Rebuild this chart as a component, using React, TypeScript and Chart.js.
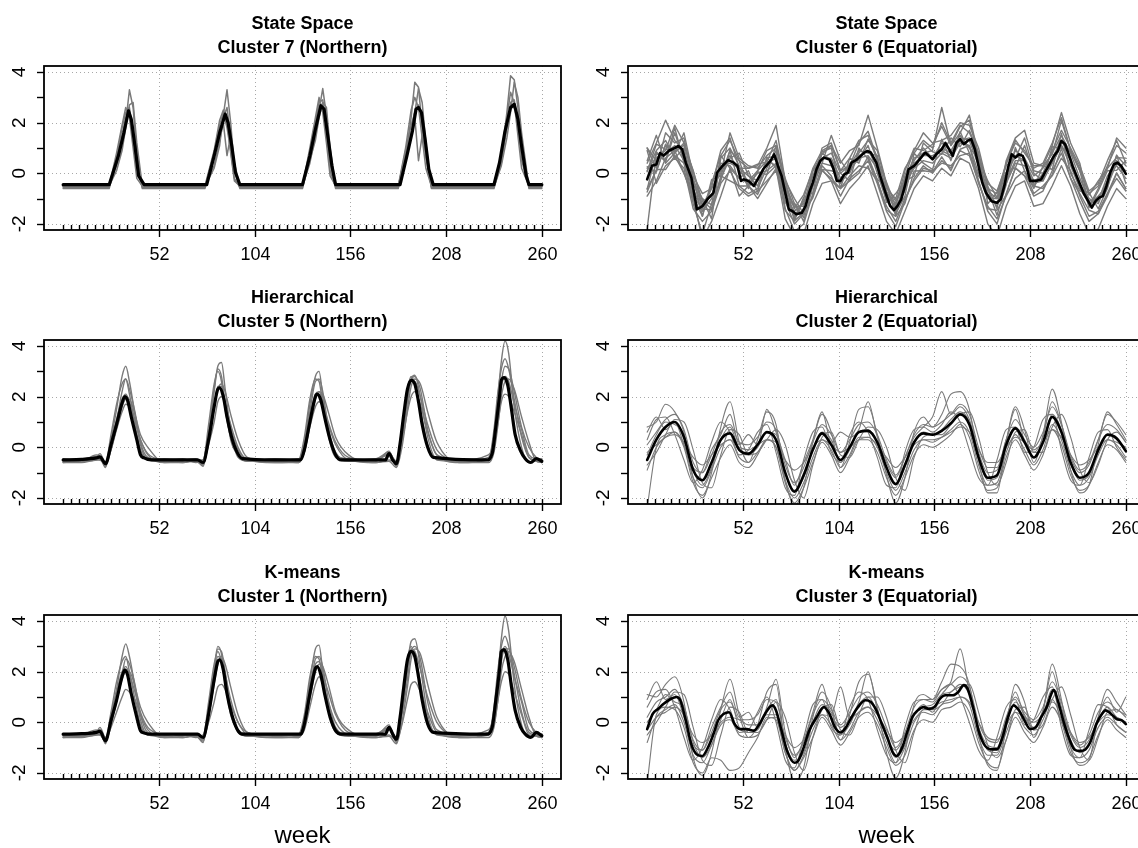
import { useEffect, useRef } from "react";
import { Chart, registerables } from "chart.js";

Chart.register(...registerables);

// ---------- axes ----------
const xTickWeeks = [52, 104, 156, 208, 260];
const yTickValues = [-2, -1, 0, 1, 2, 3, 4];
const yLabelValues = [-2, 0, 2, 4];
const minorTicksPerYear = 12;
const xMin = -10.4;
const xMax = 270.4;
const yMin = -2.24;
const yMax = 4.24;
const xAxisLabel = "week";

const panelTitles = [
  ["State Space", "Cluster 7 (Northern)"],
  ["State Space", "Cluster 6 (Equatorial)"],
  ["Hierarchical", "Cluster 5 (Northern)"],
  ["Hierarchical", "Cluster 2 (Equatorial)"],
  ["K-means", "Cluster 1 (Northern)"],
  ["K-means", "Cluster 3 (Equatorial)"],
];

// ---------- State Space, Cluster 7 (Northern) ----------
const ss7MeanWeeks = [0, 25, 30, 33, 35.5, 37, 39, 41, 44, 78, 82, 85, 88, 89.6, 91.6, 93.6, 96, 130, 134, 137, 140, 141.7, 144, 146, 148, 183, 186.7, 189.7, 191.7, 193, 194.6, 196.6, 198.6, 201, 234, 237, 240, 243, 245, 247, 249, 251.5, 253, 260];
const ss7MeanVals = [-0.45, -0.45, 0.69, 1.6, 2.47, 2.14, 1.08, -0.1, -0.45, -0.45, 0.69, 1.6, 2.34, 2.0, 1.08, 0.03, -0.45, -0.45, 0.69, 1.74, 2.67, 2.54, 1.35, 0.29, -0.45, -0.45, 0.69, 1.67, 2.54, 2.6, 2.4, 1.35, 0.16, -0.45, -0.45, 0.42, 1.67, 2.6, 2.73, 2.14, 1.08, -0.1, -0.45, -0.45];
const ss7GrayWeeks = [0, 25, 29, 32, 34, 36, 38, 40, 43, 77, 82, 85, 87, 89, 91, 93, 96, 130, 134, 137, 139, 141, 143, 145, 148, 182, 186, 189, 191, 193, 195, 197, 200, 234, 238, 241, 243, 245, 247, 249, 253, 260];
const ss7GrayLines = [
  [-0.52, -0.52, 0.3, 1.2, 2.0, 3.3, 2.6, 0.8, -0.52, -0.52, 0.2, 1.1, 2.3, 3.3, 2.0, 0.2, -0.52, -0.52, 0.4, 1.5, 2.5, 3.35, 2.3, 0.6, -0.52, -0.52, 0.6, 2.2, 3.6, 3.4, 1.8, 0.6, -0.52, -0.52, 0.6, 2.4, 3.85, 3.7, 2.6, 0.8, -0.52, -0.52],
  [-0.55, -0.55, 0.6, 1.8, 2.4, 2.6, 1.5, 0.2, -0.55, -0.55, 0.8, 1.9, 2.4, 1.8, 0.9, -0.2, -0.55, -0.55, 0.9, 2.0, 2.8, 2.9, 1.6, 0.1, -0.55, -0.55, 0.9, 1.9, 2.4, 3.35, 2.8, 1.2, -0.55, -0.55, 0.3, 1.4, 2.4, 3.6, 3.0, 1.6, -0.55, -0.55],
  [-0.5, -0.5, 0.1, 0.9, 1.8, 2.7, 2.8, 1.2, -0.5, -0.5, 0.3, 1.3, 2.0, 0.7, 1.5, 0.4, -0.5, -0.5, 0.5, 1.3, 2.2, 2.8, 2.6, 1.0, -0.5, -0.5, 0.7, 1.6, 2.2, 0.5, 1.5, 0.9, -0.5, -0.5, 0.4, 1.8, 2.8, 2.9, 2.0, 0.5, -0.5, -0.5],
  [-0.6, -0.6, 0.5, 1.5, 2.2, 2.4, 1.8, 0.5, -0.6, -0.6, 0.6, 1.6, 2.2, 2.6, 1.4, 0.1, -0.6, -0.6, 0.6, 1.8, 2.6, 2.6, 1.8, 0.4, -0.6, -0.6, 0.5, 1.5, 2.5, 2.7, 2.3, 1.0, -0.6, -0.6, 0.5, 1.9, 2.6, 2.6, 2.3, 1.0, -0.6, -0.6],
  [-0.5, -0.5, 0.8, 1.9, 2.6, 2.2, 1.0, -0.2, -0.5, -0.5, 0.9, 2.1, 2.5, 2.1, 0.8, -0.3, -0.5, -0.5, 1.0, 2.2, 3.0, 2.4, 1.2, -0.1, -0.5, -0.5, 1.0, 2.5, 3.0, 2.6, 1.4, 0.2, -0.5, -0.5, 0.8, 2.2, 3.2, 2.8, 1.5, 0.2, -0.5, -0.5],
];

// ---------- shared week grids ----------
const eqGridWeeks = [0, 5, 10, 15, 20, 25, 30, 35, 40, 45, 50, 55, 60, 65, 70, 75, 80, 85, 90, 95, 100, 105, 110, 115, 120, 125, 130, 135, 140, 145, 150, 155, 160, 165, 170, 175, 180, 185, 190, 195, 200, 205, 210, 215, 220, 225, 230, 235, 240, 245, 250, 255, 260];
const northMeanWeeks = [0, 10, 18, 20, 23, 26, 29, 32, 33.5, 35, 37, 40, 42, 44, 48, 60, 73, 76, 79, 82, 84, 85, 87, 89, 91.5, 94.5, 97.5, 115, 129, 131, 134, 137, 138, 140, 142, 145, 148, 151, 175, 177, 179, 181, 183, 185, 187, 189, 191, 193, 195, 198, 201, 230, 233, 235, 237, 238, 239.5, 241.5, 243.5, 245.5, 248.5, 251, 254, 257, 260];
const northGrayWeeks = [0, 10, 18, 20, 23, 26, 29, 32, 34, 36, 39, 42, 46, 55, 65, 72, 76, 79, 82, 84, 86, 88, 91, 95, 100, 115, 128, 131, 134, 137, 139, 141, 144, 148, 155, 170, 177, 181, 184, 187, 189, 191, 194, 198, 203, 215, 231, 234, 236, 238, 240, 242, 245, 249, 253, 257, 260];

// ---------- State Space, Cluster 6 (Equatorial) ----------
const ss6MeanWeeks = [0, 2.6, 5, 7, 9, 12, 15, 17, 19, 21, 24, 26, 27, 30, 33, 36, 38, 41, 44, 47, 49, 51, 52.5, 55, 58, 60, 63, 67, 69, 71, 73, 75, 77, 79, 81, 84, 86, 88, 90, 92, 94, 96, 99, 101, 103, 105, 107, 109, 111, 114, 116, 118, 119.5, 121.5, 124.5, 126.5, 129.5, 132, 134, 136, 138, 140, 142, 145, 148, 151, 153, 155, 157, 160, 162, 164, 166, 168, 170, 172, 174, 176, 178, 180, 182, 184, 187, 190, 192, 194, 196, 198, 200, 202, 204, 206, 208, 211, 214, 216, 218, 221, 223, 225, 227, 229, 231, 234, 237, 240, 241.5, 243.5, 245.5, 247.5, 249.5, 251.5, 253.5, 255.5, 257.5, 260];
const ss6MeanVals = [-0.24, 0.3, 0.35, 0.8, 0.7, 0.9, 1.0, 1.08, 0.95, 0.42, -0.17, -1.0, -1.43, -1.3, -1.0, -0.77, 0.03, 0.3, 0.52, 0.42, 0.3, -0.3, -0.24, -0.3, -0.5, -0.24, 0.16, 0.49, 0.75, 0.3, -0.1, -0.77, -1.43, -1.5, -1.62, -1.56, -1.3, -0.77, -0.37, 0.16, 0.49, 0.62, 0.55, 0.22, -0.3, -0.3, -0.04, 0.03, 0.42, 0.55, 0.69, 0.82, 0.88, 0.82, 0.42, -0.1, -0.77, -1.29, -1.45, -1.29, -1.03, -0.5, 0.16, 0.29, 0.55, 0.82, 0.69, 0.55, 0.75, 0.95, 1.2, 0.95, 0.69, 1.2, 1.35, 1.15, 1.28, 1.35, 0.95, 0.29, -0.37, -0.77, -1.1, -1.16, -1.03, -0.5, 0.22, 0.75, 0.62, 0.75, 0.69, 0.29, -0.3, -0.3, -0.24, 0.03, 0.29, 0.69, 0.88, 1.28, 1.15, 0.75, 0.29, -0.24, -0.77, -1.16, -1.36, -1.1, -0.96, -0.9, -0.5, 0.03, 0.36, 0.42, 0.29, -0.02];
const ss6GrayLines = [
  [1.0, 0.2, 1.6, 1.2, 1.4, -0.3, -1.0, -1.8, 0.6, 1.0, 0.3, -0.6, 0.1, 0.9, 1.1, -0.2, -1.2, -1.9, -0.5, 1.0, 1.2, 0.1, 0.6, 1.3, 1.5, 0.5, -0.6, -1.0, 0.2, 0.8, 1.3, 1.0, 2.0, 1.2, 1.9, 1.6, 0.8, -0.6, -0.8, 0.4, 1.2, 0.9, 0.2, 0.4, 1.2, 2.2, 0.9, 0.1, -0.8, -0.5, 0.3, 1.1, 0.8],
  [-2.2, 0.8, 0.5, 1.8, 0.4, -1.2, -2.4, -1.2, -0.3, 0.9, -0.5, -0.8, -0.6, 0.2, 0.9, -1.4, -2.3, -2.0, -0.8, 0.3, -0.1, -0.9, -0.2, 0.1, 0.5, -0.4, -1.5, -2.1, -1.1, -0.2, 0.3, 0.0, 0.5, 0.2, 0.9, 0.7, -0.3, -1.5, -2.0, -0.8, 0.2, -0.1, -0.9, -0.7, 0.1, 0.8, -0.2, -1.1, -1.9, -1.6, -0.9, 0.0, -0.6],
  [0.4, 1.2, 2.1, 1.3, 0.9, -0.9, -1.7, -0.4, 0.7, 1.3, 0.5, 0.2, 0.3, 1.0, 1.9, -0.3, -1.8, -1.0, 0.2, 0.9, 1.1, 0.4, 0.9, 1.1, 2.3, 1.0, -0.4, -1.7, -0.1, 0.9, 1.6, 1.2, 1.3, 1.5, 2.0, 1.9, 1.0, -0.5, -1.4, 0.5, 1.4, 1.7, 0.4, 0.3, 1.1, 2.4, 1.2, 0.4, -1.3, -0.6, 0.2, 1.4, 1.0],
  [0.9, -0.4, 0.3, 0.6, 0.2, -1.4, -1.9, -1.5, -0.4, 0.1, -0.6, -0.9, -0.7, -0.3, 0.1, -1.1, -2.0, -1.6, -0.9, 0.1, -0.2, -0.6, -0.1, 0.3, 0.2, -0.3, -1.3, -1.9, -1.0, -0.3, 0.2, 0.1, 0.4, 0.3, 0.7, 0.8, -0.4, -1.3, -1.8, -0.9, -0.2, 0.1, -0.8, -0.5, -0.1, 0.6, 0.1, -0.9, -1.7, -1.5, -0.8, -0.2, -0.7],
  [0.2, 0.6, 0.9, 1.9, 1.2, 0.1, -1.1, -1.4, -0.2, 0.6, 0.8, -0.1, -0.5, 0.6, 0.7, -0.6, -1.3, -1.3, 0.1, 0.6, 0.8, 0.0, 0.3, 0.9, 0.8, 0.7, -0.9, -1.3, -0.7, 0.5, 1.0, 0.6, 1.2, 0.9, 1.5, 1.0, 0.6, -1.0, -1.0, 0.0, 0.9, 0.6, -0.1, 0.2, 0.8, 1.5, 0.8, -0.2, -1.0, -1.2, -0.3, 0.7, 0.3],
  [-0.6, 0.1, 1.1, 0.7, 0.4, -0.6, -1.5, -1.0, 0.4, 0.3, -0.2, -0.4, 0.0, 0.1, 0.4, -0.9, -1.5, -1.2, -0.1, 0.8, 0.5, -0.4, 0.4, 0.5, 1.1, 0.0, -1.1, -1.5, -0.4, 0.2, 0.5, 0.4, 0.8, 0.6, 1.2, 1.1, 0.0, -0.8, -1.3, -0.4, 0.4, 0.3, -0.4, -0.3, 0.4, 1.1, 0.3, -0.6, -1.2, -0.9, -0.5, 0.4, 0.1],
  [0.5, 1.5, 0.4, 0.8, 1.6, -0.1, -0.8, -0.6, 0.0, 1.6, 0.6, 0.3, 0.2, 0.7, 1.0, -0.3, -1.0, -1.6, -0.4, 0.4, 1.5, 0.5, 0.0, 0.8, 1.3, 0.9, -0.5, -1.1, -0.2, 0.6, 0.8, 0.9, 2.6, 1.1, 1.6, 2.3, 0.7, -0.4, -0.7, 0.3, 0.6, 1.4, 0.1, 0.0, 0.9, 1.7, 1.0, 0.3, -0.7, -0.4, 0.5, 1.3, 0.4],
  [-0.9, -0.3, 0.6, 0.9, 0.0, -1.0, -2.6, -1.9, -0.9, 0.2, -0.9, -0.5, -1.0, -0.4, 0.2, -1.8, -2.5, -2.4, -1.2, -0.4, -0.3, -1.2, -0.6, -0.2, 0.3, -0.8, -1.9, -2.4, -1.5, -0.6, -0.1, -0.3, 0.2, -0.1, 0.6, 0.4, -0.6, -2.0, -2.5, -1.3, -0.5, -0.3, -1.3, -1.2, -0.5, 0.3, -0.5, -1.6, -2.4, -2.2, -1.3, -0.6, -1.0],
  [0.1, 0.9, 1.3, 0.6, 1.0, -0.4, -1.2, -0.9, 0.3, 0.4, 0.2, -0.1, -0.3, 0.4, 0.6, -0.5, -1.4, -1.6, -0.3, 0.6, 0.6, -0.2, 0.2, 0.7, 0.9, 0.3, -0.7, -1.4, -0.6, 0.3, 0.8, 0.6, 1.0, 0.8, 1.4, 1.3, 0.3, -0.9, -1.2, -0.1, 0.7, 0.5, -0.3, -0.1, 0.6, 1.3, 0.6, -0.4, -1.1, -1.0, -0.3, 0.5, 0.0],
  [1.0, 0.5, 0.8, 1.1, 0.5, -0.2, -1.4, -0.6, 0.1, 0.7, 0.1, -0.3, 0.1, 0.5, 0.3, -0.8, -1.7, -1.1, -0.5, 0.4, 0.3, -0.4, 0.1, 0.6, 0.7, 0.2, -0.8, -1.2, -0.3, 0.4, 0.7, 0.7, 0.9, 0.7, 1.3, 1.4, 0.5, -0.7, -1.0, -0.3, 0.5, 0.5, -0.5, 0.0, 0.4, 1.1, 0.5, -0.5, -1.2, -1.1, -0.1, 0.3, -0.2],
  [0.26, 0.05, 1.15, 0.8, 1.2, -0.2, -1.7, -0.25, -0.1, 0.9, 0.5, -0.5, 0.06, -0.05, 1.1, -0.57, -1.88, -0.95, -0.77, 0.85, 1.0, -0.6, 0.6, 0.4, 1.36, 0.65, -1.15, -0.8, -0.3, -0.11, 1.2, 0.85, 0.75, 1.4, 1.05, 1.7, 0.79, -1.2, -0.76, 0.05, 0.22, 1.1, 0.0, -0.3, 1.05, 0.98, 0.9, 0.1, -1.36, -0.7, 0.1, 0.12, 0.5],
  [-0.64, 0.85, 0.45, 1.6, 0.5, -1.0, -1.0, -1.25, 0.7, 0.2, -0.2, 0.1, -0.74, 0.65, 0.2, -1.17, -1.18, -1.75, 0.13, 0.15, 0.1, 0.0, -0.3, 1.0, 0.56, -0.25, -0.45, -1.6, -0.9, 0.79, 0.4, 0.15, 1.35, 0.5, 1.65, 0.8, -0.11, -0.6, -1.66, -0.45, 1.02, 0.1, -0.6, 0.3, 0.15, 1.58, 0.0, -0.7, -0.76, -1.4, -0.6, 0.72, -0.4],
  [0.06, 1.15, 0.95, 0.9, 1.1, 0.1, -1.3, -0.55, 0.9, 1.4, 0.2, 0.2, 0.36, 0.45, 1.3, -0.37, -1.38, -0.85, 0.13, 0.75, 1.1, 0.1, 0.3, 1.2, 1.66, 0.55, -0.35, -1.3, 0.1, 0.99, 0.9, 1.15, 1.85, 1.1, 1.85, 2.1, 0.59, -0.3, -0.96, 0.35, 1.32, 0.8, 0.3, 0.3, 0.75, 2.08, 0.9, 0.2, -0.86, -0.3, 0.2, 0.62, 0.6],
  [-0.74, 0.15, 0.15, 0.7, 0.0, -0.9, -1.4, -1.45, -0.1, -0.3, -0.5, -0.5, -0.84, -0.05, 0.3, -1.47, -1.88, -1.55, -0.97, 0.15, -0.3, -0.6, -0.3, 0.0, 0.66, -0.25, -1.45, -1.7, -1.2, 0.09, 0.1, 0.05, 0.65, 0.1, 0.95, 1.1, -0.31, -1.4, -1.46, -0.85, 0.22, -0.1, -0.5, -0.6, -0.05, 0.98, -0.2, -0.8, -1.46, -1.6, -0.8, 0.02, -0.6],
];

// ---------- Hierarchical, Cluster 5 (Northern) ----------
const h5MeanVals = [-0.5, -0.48, -0.42, -0.38, -0.65, 0.1, 0.9, 1.75, 2.0, 1.85, 1.2, 0.3, -0.3, -0.42, -0.5, -0.5, -0.5, -0.6, 0.3, 1.6, 2.3, 2.35, 2.0, 1.2, 0.4, -0.2, -0.45, -0.5, -0.5, -0.1, 1.0, 2.0, 2.1, 1.85, 1.2, 0.3, -0.3, -0.5, -0.5, -0.25, -0.5, -0.65, 0.15, 1.3, 2.3, 2.65, 2.5, 1.8, 0.9, 0.0, -0.4, -0.5, -0.25, 0.8, 2.0, 2.65, 2.75, 2.45, 1.5, 0.5, -0.15, -0.45, -0.6, -0.45, -0.55];
const h5GrayLines = [
  [-0.55, -0.5, -0.35, -0.4, -0.75, 0.3, 1.5, 2.8, 3.2, 2.6, 1.3, 0.1, -0.5, -0.55, -0.5, -0.45, -0.7, 0.6, 2.2, 3.2, 3.35, 2.3, 0.7, -0.4, -0.55, -0.5, -0.5, 0.2, 1.7, 2.8, 3.0, 2.0, 0.5, -0.4, -0.55, -0.5, -0.3, -0.7, 0.5, 2.0, 2.7, 2.85, 2.0, 0.4, -0.5, -0.55, -0.4, 0.5, 1.9, 3.4, 4.2, 3.7, 1.6, 0.0, -0.6, -0.5, -0.55],
  [-0.6, -0.55, -0.5, -0.45, -0.65, -0.1, 0.7, 1.4, 1.7, 1.6, 1.0, 0.3, -0.3, -0.6, -0.55, -0.5, -0.6, 0.1, 1.0, 1.8, 2.0, 1.7, 0.9, 0.0, -0.5, -0.6, -0.55, -0.2, 0.8, 1.6, 1.8, 1.6, 0.9, 0.1, -0.5, -0.6, -0.5, -0.6, 0.2, 1.4, 2.0, 2.2, 1.7, 0.6, -0.3, -0.6, -0.5, 0.0, 0.9, 1.8, 2.1, 2.0, 1.4, 0.5, -0.4, -0.55, -0.6],
  [-0.5, -0.55, -0.3, -0.35, -0.8, 0.2, 1.1, 1.9, 2.1, 1.8, 1.1, 0.3, -0.25, -0.5, -0.6, -0.5, -0.75, 0.4, 1.6, 2.4, 2.4, 1.8, 0.8, -0.1, -0.45, -0.55, -0.6, 0.0, 1.2, 2.1, 2.2, 1.8, 1.0, 0.2, -0.4, -0.55, -0.15, -0.75, 0.3, 1.8, 2.6, 2.6, 2.0, 0.9, -0.1, -0.5, -0.3, 0.2, 1.3, 2.4, 2.8, 2.6, 1.7, 0.7, -0.3, -0.45, -0.5],
  [-0.45, -0.5, -0.4, -0.25, -0.6, 0.0, 1.0, 2.2, 2.7, 2.3, 1.4, 0.2, -0.4, -0.5, -0.45, -0.6, -0.5, 0.5, 2.3, 3.1, 2.8, 1.7, 0.3, -0.3, -0.55, -0.45, -0.5, 0.1, 1.4, 2.6, 2.7, 2.2, 0.8, -0.2, -0.5, -0.45, -0.2, -0.6, 0.4, 1.9, 2.7, 2.8, 2.3, 0.7, -0.3, -0.5, -0.5, 0.2, 1.4, 2.6, 3.2, 3.1, 2.2, 0.8, 0.0, -0.4, -0.5],
  [-0.6, -0.6, -0.5, -0.5, -0.7, -0.1, 0.8, 1.6, 1.9, 1.9, 1.3, 0.5, 0.0, -0.6, -0.6, -0.55, -0.7, 0.2, 1.5, 2.3, 2.5, 2.2, 1.3, 0.3, -0.4, -0.6, -0.6, -0.2, 0.9, 1.9, 2.2, 2.1, 1.4, 0.4, -0.3, -0.6, -0.55, -0.8, 0.0, 1.5, 2.4, 2.7, 2.5, 1.4, 0.2, -0.6, -0.6, -0.2, 0.8, 2.0, 2.6, 2.7, 2.3, 1.2, 0.2, -0.55, -0.6],
  [-0.5, -0.45, -0.45, -0.5, -0.6, 0.5, 1.7, 2.5, 2.7, 2.1, 0.9, -0.1, -0.5, -0.45, -0.5, -0.5, -0.5, 0.9, 2.5, 3.0, 2.6, 1.5, 0.4, -0.3, -0.45, -0.5, -0.45, 0.4, 1.9, 2.7, 2.6, 1.7, 0.6, -0.3, -0.45, -0.5, -0.25, -0.55, 0.8, 2.3, 2.8, 2.5, 1.5, 0.1, -0.45, -0.5, -0.5, 0.7, 2.1, 3.1, 3.5, 3.1, 1.9, 0.4, -0.4, -0.5, -0.45],
];

// ---------- Hierarchical, Cluster 2 (Equatorial) ----------
const h2MeanVals = [-0.5, 0.3, 0.8, 1.0, 0.4, -0.9, -1.3, -0.6, 0.3, 0.55, -0.1, -0.25, 0.1, 0.6, 0.3, -1.0, -1.75, -1.1, -0.1, 0.55, 0.1, -0.5, 0.0, 0.6, 0.65, 0.2, -0.8, -1.45, -0.7, 0.2, 0.55, 0.5, 0.65, 0.95, 1.3, 0.9, -0.4, -1.2, -1.1, 0.1, 0.75, 0.2, -0.4, 0.2, 1.2, 0.6, -0.6, -1.2, -1.0, -0.1, 0.5, 0.35, -0.15];
const h2GrayLines = [
  [0.8, 1.0, 1.7, 1.4, 0.6, -1.2, -2.0, -1.0, 0.8, 1.8, 0.2, -0.6, 0.3, 1.4, 0.9, -1.3, -2.3, -1.6, 0.2, 1.3, 0.6, -0.8, 0.2, 1.5, 1.6, 0.5, -1.1, -2.2, -1.2, 0.6, 1.2, 0.8, 1.3, 2.1, 2.2, 1.5, -0.5, -1.8, -1.8, 0.2, 1.6, 0.7, -0.6, 0.5, 2.3, 1.0, -0.9, -1.8, -1.5, 0.1, 1.4, 0.9, 0.3],
  [-0.2, 0.1, 0.4, 0.5, 0.2, -0.4, -0.7, -0.3, 0.1, 0.3, 0.0, -0.1, 0.1, 0.3, 0.2, -0.5, -0.9, -0.6, 0.0, 0.3, 0.1, -0.2, 0.0, 0.3, 0.4, 0.1, -0.4, -0.8, -0.4, 0.1, 0.3, 0.3, 0.4, 0.6, 0.8, 0.6, -0.1, -0.6, -0.6, 0.0, 0.4, 0.2, -0.1, 0.2, 0.7, 0.4, -0.3, -0.7, -0.5, 0.0, 0.3, 0.2, 0.0],
  [-2.4, 0.0, 0.5, 0.6, 0.0, -1.4, -1.9, -1.2, -0.4, 0.1, -0.6, -0.8, -0.3, 0.3, 0.0, -1.4, -2.2, -1.6, -0.6, 0.2, -0.3, -1.0, -0.4, 0.3, 0.3, -0.2, -1.2, -1.9, -1.2, -0.3, 0.1, 0.0, 0.2, 0.5, 0.9, 0.4, -0.9, -1.7, -1.6, -0.4, 0.3, -0.3, -0.9, -0.3, 0.7, 0.1, -1.1, -1.7, -1.5, -0.6, 0.1, -0.1, -0.6],
  [0.3, 1.1, 1.2, 0.5, -0.5, -1.4, -0.9, 0.2, 1.0, 0.6, -0.3, -0.1, 0.6, 0.9, -0.2, -1.6, -1.9, -0.5, 0.6, 0.8, -0.2, -0.6, 0.5, 1.0, 0.6, -0.4, -1.5, -1.6, -0.2, 0.7, 0.8, 0.6, 0.9, 1.4, 1.0, -0.1, -1.2, -1.5, -0.5, 0.7, 0.8, -0.2, 0.0, 1.1, 1.3, -0.1, -1.3, -1.5, -0.4, 0.6, 0.7, 0.0, -0.5],
  [-0.7, -0.2, 0.5, 1.1, 1.0, -0.1, -1.4, -1.6, -0.3, 0.7, 0.5, -0.3, -0.2, 0.3, 0.7, 0.1, -1.3, -2.0, -0.7, 0.4, 0.6, -0.3, -0.4, 0.3, 0.8, 0.7, 0.0, -1.2, -1.7, -0.4, 0.4, 0.5, 0.5, 0.9, 1.3, 1.4, 0.4, -1.0, -1.5, -0.6, 0.6, 0.7, -0.2, -0.2, 0.8, 1.3, 0.4, -0.9, -1.4, -0.7, 0.3, 0.6, 0.2],
  [0.1, 0.6, 1.1, 1.3, 0.7, -0.6, -1.0, -0.3, 0.6, 0.9, 0.2, 0.1, 0.4, 1.0, 0.7, -0.7, -1.4, -0.8, 0.2, 0.9, 0.5, -0.2, 0.3, 0.9, 1.0, 0.5, -0.5, -1.1, -0.4, 0.5, 0.9, 0.8, 1.0, 1.3, 1.7, 1.3, 0.0, -0.8, -0.8, 0.3, 1.1, 0.5, 0.0, 0.6, 1.6, 0.9, -0.3, -0.9, -0.6, 0.3, 0.9, 0.7, 0.2],
  [-0.9, 0.0, 0.4, 0.6, 0.1, -1.2, -1.6, -0.9, 0.0, 0.3, -0.4, -0.6, -0.2, 0.3, 0.0, -1.3, -2.0, -1.4, -0.4, 0.3, -0.1, -0.8, -0.3, 0.4, 0.4, 0.0, -1.0, -1.7, -1.0, -0.1, 0.3, 0.2, 0.4, 0.7, 1.0, 0.6, -0.7, -1.5, -1.4, -0.2, 0.5, -0.1, -0.7, -0.1, 0.9, 0.3, -0.9, -1.5, -1.2, -0.3, 0.3, 0.1, -0.4],
  [0.6, 1.2, 0.7, 1.0, 0.1, -0.8, -1.0, -0.1, 0.5, 1.3, 0.1, 0.5, 0.1, 1.5, 0.6, -0.5, -1.5, -0.6, 0.3, 1.4, 0.2, 0.6, 0.4, 0.7, 1.8, 0.4, -0.6, -1.2, -0.4, 0.4, 0.8, 1.2, 2.2, 1.3, 1.6, 1.1, -0.2, -1.0, -0.9, 0.3, 1.5, 0.2, -0.2, 0.4, 1.8, 0.9, -0.4, -1.0, -0.7, 0.3, 1.3, 1.0, 0.5],
  [-0.3, 0.5, 1.0, 0.9, 0.5, -0.9, -1.5, -0.8, 0.3, 0.8, -0.1, -0.3, 0.0, 0.6, 0.5, -1.0, -1.7, -1.2, -0.1, 0.6, 0.3, -0.6, -0.1, 0.6, 0.7, 0.2, -0.8, -1.5, -0.8, 0.2, 0.6, 0.5, 0.7, 1.1, 1.4, 1.0, -0.4, -1.3, -1.2, 0.0, 0.8, 0.3, -0.4, 0.2, 1.3, 0.7, -0.6, -1.3, -1.1, -0.2, 0.5, 0.4, -0.2],
];

// ---------- K-means, Cluster 1 (Northern) ----------
const k1MeanVals = [-0.47, -0.45, -0.4, -0.35, -0.73, 0.07, 0.87, 1.8, 2.07, 1.87, 1.13, 0.2, -0.33, -0.42, -0.47, -0.47, -0.47, -0.6, 0.33, 1.67, 2.4, 2.47, 2.07, 1.13, 0.33, -0.27, -0.47, -0.47, -0.47, -0.07, 1.13, 2.13, 2.2, 1.87, 1.13, 0.2, -0.33, -0.47, -0.47, -0.2, -0.47, -0.67, 0.2, 1.4, 2.47, 2.8, 2.6, 1.8, 0.87, -0.07, -0.4, -0.47, -0.2, 0.87, 2.07, 2.8, 2.87, 2.47, 1.4, 0.47, -0.2, -0.47, -0.6, -0.4, -0.53];
const k1GrayLines = [
  [-0.55, -0.5, -0.3, -0.4, -0.8, 0.2, 1.3, 2.6, 3.1, 2.6, 1.4, 0.1, -0.5, -0.55, -0.5, -0.45, -0.7, 0.5, 2.0, 2.9, 2.8, 2.0, 0.6, -0.4, -0.55, -0.5, -0.5, 0.1, 1.6, 2.9, 3.05, 2.0, 0.5, -0.4, -0.55, -0.5, -0.3, -0.75, 0.6, 2.3, 3.2, 3.3, 2.2, 0.3, -0.5, -0.55, -0.4, 0.4, 1.7, 3.3, 4.2, 3.6, 1.5, -0.1, -0.6, -0.5, -0.55],
  [-0.6, -0.55, -0.5, -0.45, -0.7, -0.2, 0.4, 1.0, 1.3, 1.2, 0.9, 0.3, -0.3, -0.6, -0.55, -0.5, -0.6, 0.0, 0.8, 1.4, 1.5, 1.3, 0.7, 0.0, -0.5, -0.6, -0.55, -0.3, 0.6, 1.5, 1.8, 1.5, 0.8, 0.0, -0.5, -0.6, -0.5, -0.7, -0.1, 0.9, 1.5, 1.6, 1.2, 0.4, -0.4, -0.6, -0.5, -0.1, 0.8, 1.6, 2.0, 1.9, 1.2, 0.3, -0.5, -0.55, -0.6],
  [-0.5, -0.55, -0.35, -0.3, -0.85, 0.3, 1.2, 2.0, 2.2, 1.9, 1.2, 0.4, -0.2, -0.5, -0.6, -0.5, -0.8, 0.6, 1.9, 2.6, 2.5, 1.9, 0.9, 0.0, -0.4, -0.55, -0.6, 0.1, 1.4, 2.3, 2.4, 1.9, 1.2, 0.3, -0.4, -0.55, -0.1, -0.8, 0.4, 2.0, 2.9, 2.8, 2.1, 1.0, 0.0, -0.5, -0.3, 0.3, 1.4, 2.6, 3.0, 2.7, 1.8, 0.8, -0.3, -0.45, -0.5],
  [-0.45, -0.5, -0.4, -0.2, -0.6, 0.0, 0.9, 1.9, 2.5, 2.3, 1.5, 0.3, -0.4, -0.5, -0.45, -0.6, -0.5, 0.4, 2.1, 3.0, 2.7, 1.6, 0.3, -0.3, -0.55, -0.45, -0.5, 0.0, 1.2, 2.5, 2.6, 2.2, 0.9, -0.2, -0.5, -0.45, -0.2, -0.6, 0.3, 1.7, 2.8, 3.0, 2.5, 0.8, -0.3, -0.5, -0.5, 0.1, 1.2, 2.4, 2.9, 2.9, 2.2, 0.9, 0.0, -0.4, -0.5],
  [-0.6, -0.6, -0.5, -0.5, -0.75, -0.1, 0.8, 1.7, 2.0, 2.0, 1.4, 0.6, 0.0, -0.6, -0.6, -0.55, -0.75, 0.2, 1.5, 2.3, 2.6, 2.3, 1.4, 0.3, -0.4, -0.6, -0.6, -0.2, 0.9, 2.0, 2.3, 2.2, 1.5, 0.4, -0.3, -0.6, -0.55, -0.85, 0.0, 1.4, 2.5, 2.9, 2.7, 1.5, 0.2, -0.6, -0.6, -0.2, 0.8, 2.0, 2.6, 2.8, 2.4, 1.3, 0.2, -0.55, -0.6],
  [-0.5, -0.45, -0.45, -0.5, -0.65, 0.4, 1.6, 2.4, 2.6, 2.0, 0.9, -0.1, -0.5, -0.45, -0.5, -0.5, -0.55, 0.8, 2.3, 2.8, 2.4, 1.5, 0.4, -0.3, -0.45, -0.5, -0.45, 0.3, 1.8, 2.6, 2.5, 1.7, 0.6, -0.3, -0.45, -0.5, -0.25, -0.6, 0.8, 2.5, 3.0, 2.6, 1.6, 0.1, -0.45, -0.5, -0.5, 0.6, 2.0, 3.0, 3.4, 3.0, 1.9, 0.4, -0.4, -0.5, -0.45],
];

// ---------- K-means, Cluster 3 (Equatorial) ----------
const k3MeanWeeks = [0, 3, 6, 9, 13, 16, 18, 21, 24, 27, 30, 33, 36, 38.5, 41.5, 44.5, 47.5, 50.5, 54, 58, 61, 64, 68, 70, 73, 76, 80, 82, 85, 88, 92, 96, 99, 102, 105, 108, 111, 114.5, 118.5, 121.5, 124.5, 127.5, 130.5, 133.5, 135.5, 138.5, 141.5, 144, 147, 150, 153, 156, 159, 162, 166, 169, 172, 174, 177, 180, 183, 187, 190, 193, 196, 199, 202, 205, 208, 211, 214, 217, 220, 221, 223, 226, 229, 232, 235, 238, 241, 244, 247, 249, 252, 255, 258, 260];
const k3MeanVals = [-0.27, 0.33, 0.53, 0.73, 0.93, 1.0, 0.87, 0.07, -0.87, -1.27, -1.33, -1.0, -0.47, 0.07, 0.33, 0.4, -0.07, -0.27, -0.27, -0.33, -0.07, 0.33, 0.67, 0.47, -0.33, -1.13, -1.6, -1.53, -1.0, -0.33, 0.2, 0.6, 0.33, -0.2, -0.4, -0.2, 0.2, 0.6, 0.87, 0.8, 0.47, -0.07, -0.6, -1.2, -1.33, -1.0, -0.33, 0.2, 0.47, 0.6, 0.53, 0.6, 0.93, 1.07, 1.07, 1.2, 1.47, 1.33, 0.6, -0.33, -0.87, -1.07, -1.07, -0.6, 0.2, 0.67, 0.47, 0.07, -0.27, -0.2, 0.2, 0.6, 1.2, 1.27, 0.87, 0.07, -0.6, -1.07, -1.13, -1.07, -0.73, -0.07, 0.33, 0.47, 0.33, 0.13, 0.07, -0.07];
const k3GrayLines = [
  [1.1, 1.0, 1.5, 1.8, 0.8, -1.4, -2.1, -1.2, 0.5, 1.7, 0.3, -0.6, -0.1, 1.2, 1.5, -1.0, -2.3, -1.8, 0.2, 1.2, 0.6, -0.7, 0.3, 1.6, 1.9, 0.6, -1.2, -2.2, -1.2, 0.7, 1.1, 0.9, 1.6, 2.3, 2.2, 1.5, -0.5, -1.7, -1.9, -0.2, 1.5, 0.8, -0.6, 0.4, 2.3, 0.9, -1.0, -1.7, -1.5, 0.2, 1.3, 0.8, 0.3],
  [-0.3, 0.2, 0.4, 0.6, 0.3, -0.5, -0.8, -0.5, 0.0, 0.2, 0.1, -0.1, -0.1, 0.3, 0.3, -0.5, -1.0, -0.7, -0.1, 0.3, 0.2, -0.2, 0.1, 0.4, 0.6, 0.3, -0.3, -0.8, -0.5, 0.1, 0.5, 0.6, 0.8, 0.9, 1.0, 0.8, 0.0, -0.6, -0.7, -0.1, 0.4, 0.2, 0.0, 0.3, 0.8, 0.4, -0.4, -0.8, -0.6, 0.0, 0.3, 0.2, 0.0],
  [-2.4, 0.3, 0.6, 0.5, -0.2, -1.6, -2.0, -1.4, -1.5, -1.9, -1.8, -1.2, -0.6, 0.2, 0.1, -1.2, -1.9, -1.4, -0.6, 0.2, -0.3, -0.9, -0.4, 0.2, 0.4, -0.1, -1.0, -1.7, -1.3, -0.3, 0.1, 0.0, 0.5, 0.6, 0.8, 0.4, -0.8, -1.6, -1.8, -0.7, 0.2, -0.4, -0.8, -0.2, 0.6, 0.0, -1.2, -1.6, -1.4, -0.5, 0.1, -0.3, -0.6],
  [0.6, 1.2, 1.3, 0.6, -0.6, -1.5, -1.0, 0.1, 0.9, 0.5, -0.4, -0.3, 0.4, 1.0, 0.0, -1.5, -1.8, -0.6, 0.7, 0.9, -0.2, -0.5, 0.6, 1.2, 0.9, -0.3, -1.3, -1.6, -0.2, 0.8, 0.9, 0.8, 1.3, 1.5, 1.0, 0.0, -1.1, -1.5, -0.6, 0.6, 0.9, -0.1, 0.1, 1.0, 1.4, -0.2, -1.3, -1.4, -0.3, 0.7, 0.6, -0.1, -0.4],
  [-0.5, 0.0, 0.6, 1.2, 1.1, -0.2, -1.5, -1.7, -0.5, 0.6, 0.4, -0.4, -0.4, 0.1, 0.8, 0.2, -1.2, -1.9, -0.6, 0.5, 0.7, -0.3, -0.5, 0.3, 1.0, 1.0, 0.2, -1.1, -1.6, -0.4, 0.5, 0.5, 0.7, 1.2, 1.4, 1.5, 0.4, -0.9, -1.4, -0.7, 0.5, 0.6, -0.3, -0.1, 0.9, 1.4, 0.3, -1.0, -1.5, -0.6, 0.4, 0.5, 0.2],
  [0.2, 0.8, 1.0, 1.3, 0.6, -0.7, -1.1, -0.4, 0.5, 0.8, 0.1, 0.1, 0.3, 0.9, 0.8, -0.6, -1.3, -0.8, 0.3, 0.9, 0.5, -0.1, 0.4, 1.0, 1.2, 0.7, -0.2, -1.0, -0.4, 0.6, 0.9, 0.9, 1.3, 1.5, 1.8, 1.4, 0.0, -0.7, -0.8, 0.2, 1.0, 0.4, 0.1, 0.6, 1.6, 0.8, -0.4, -0.9, -0.5, 0.4, 0.8, 0.5, 0.3],
  [-0.8, 0.2, 0.5, 0.7, 0.0, -1.3, -1.6, -0.9, -0.1, 0.1, -0.5, -0.6, -0.5, 0.1, 0.2, -1.2, -1.9, -1.3, -0.3, 0.3, -0.1, -0.7, -0.3, 0.4, 0.6, 0.1, -0.8, -1.6, -1.0, 0.0, 0.4, 0.3, 0.7, 0.8, 1.0, 0.7, -0.6, -1.3, -1.3, -0.4, 0.4, -0.2, -0.5, 0.1, 0.9, 0.1, -1.0, -1.4, -1.1, -0.2, 0.2, -0.1, -0.4],
  [0.9, 1.6, 0.9, 1.1, 0.2, -0.9, -1.1, -0.2, 0.6, 1.2, 0.2, 0.4, -0.2, 0.6, 1.7, -0.4, -1.4, -0.7, 0.4, 1.5, 0.3, 1.4, 0.2, 0.8, 2.0, 0.5, -0.6, -1.1, -0.5, 0.3, 0.7, 0.4, 1.1, 1.6, 2.9, 1.2, -0.2, -0.9, -1.0, 0.1, 1.2, 0.2, -0.2, 0.5, 2.0, 0.6, -0.5, -1.0, -0.7, 0.2, 1.0, 0.4, 1.0],
  [0.0, 0.5, 1.1, 0.8, 0.6, -0.8, -1.4, -0.9, 0.1, 0.9, -0.2, -0.4, -0.3, 0.5, 0.9, -0.8, -1.5, -1.2, 0.0, 0.7, 0.4, -0.5, -0.1, 0.7, 1.0, 0.4, -0.6, -1.4, -0.9, 0.3, 0.6, 0.7, 1.1, 1.2, 1.5, 1.1, -0.2, -1.1, -1.2, -0.1, 0.8, 0.3, -0.3, 0.3, 1.3, 0.5, -0.7, -1.2, -0.9, 0.1, 0.6, 0.2, 0.0],
];

// ---------- layout & style ----------
const FONT = '"Liberation Sans", Arial, Helvetica, sans-serif';
const GRAY = "#7a7a7a";
const colLayout = [
  { left: 0, width: 570, padLeft: 44, padRight: 9 },
  { left: 570, width: 590, padLeft: 58, padRight: 15 },
];
const rowLayout = [
  { top: 0, height: 274 },
  { top: 274, height: 274 },
  { top: 549, height: 299 },
];
const BOX_TOP = 66;
const BOX_BOTTOM = 230;

type PanelSpec = {
  row: number;
  col: number;
  title: string[];
  meanWeeks: number[];
  meanVals: number[];
  grayWeeks: number[];
  grayLines: number[][];
  smooth: boolean;
  meanWidth: number;
  grayWidth: number;
};

const panels: PanelSpec[] = [
  { row: 0, col: 0, title: panelTitles[0], meanWeeks: ss7MeanWeeks, meanVals: ss7MeanVals, grayWeeks: ss7GrayWeeks, grayLines: ss7GrayLines, smooth: false, meanWidth: 3.2, grayWidth: 1.5 },
  { row: 0, col: 1, title: panelTitles[1], meanWeeks: ss6MeanWeeks, meanVals: ss6MeanVals, grayWeeks: eqGridWeeks, grayLines: ss6GrayLines, smooth: false, meanWidth: 2.6, grayWidth: 1.4 },
  { row: 1, col: 0, title: panelTitles[2], meanWeeks: northMeanWeeks, meanVals: h5MeanVals, grayWeeks: northGrayWeeks, grayLines: h5GrayLines, smooth: true, meanWidth: 3.2, grayWidth: 1.4 },
  { row: 1, col: 1, title: panelTitles[3], meanWeeks: eqGridWeeks, meanVals: h2MeanVals, grayWeeks: eqGridWeeks, grayLines: h2GrayLines, smooth: true, meanWidth: 2.6, grayWidth: 1.1 },
  { row: 2, col: 0, title: panelTitles[4], meanWeeks: northMeanWeeks, meanVals: k1MeanVals, grayWeeks: northGrayWeeks, grayLines: k1GrayLines, smooth: true, meanWidth: 3.2, grayWidth: 1.4 },
  { row: 2, col: 1, title: panelTitles[5], meanWeeks: k3MeanWeeks, meanVals: k3MeanVals, grayWeeks: eqGridWeeks, grayLines: k3GrayLines, smooth: true, meanWidth: 2.6, grayWidth: 1.1 },
];

const makeLine = (weeks: number[], vals: number[], color: string, width: number, smooth: boolean) => ({
  data: weeks.map((w, i) => ({ x: w, y: vals[i] })),
  borderColor: color,
  borderWidth: width,
  pointRadius: 0,
  fill: false,
  tension: smooth ? 0.4 : 0,
  cubicInterpolationMode: smooth ? "monotone" : "default",
  borderJoinStyle: "round",
  borderCapStyle: "round",
  clip: 0,
});

const rFramePlugin = {
  id: "rFrame",
  beforeDatasetsDraw(chart: any) {
    const { ctx, chartArea: a, scales } = chart;
    const x = scales.x;
    const y = scales.y;
    ctx.save();
    ctx.beginPath();
    ctx.rect(a.left, a.top, a.right - a.left, a.bottom - a.top);
    ctx.clip();
    ctx.strokeStyle = "#a8a8a8";
    ctx.lineWidth = 1;
    ctx.setLineDash([1, 3]);
    for (const w of xTickWeeks) {
      const px = Math.round(x.getPixelForValue(w)) + 0.5;
      ctx.beginPath();
      ctx.moveTo(px, a.top);
      ctx.lineTo(px, a.bottom);
      ctx.stroke();
    }
    for (const v of yLabelValues) {
      const py = Math.round(y.getPixelForValue(v)) + 0.5;
      ctx.beginPath();
      ctx.moveTo(a.left, py);
      ctx.lineTo(a.right, py);
      ctx.stroke();
    }
    ctx.restore();
  },
  afterDatasetsDraw(chart: any, _args: any, opts: any) {
    const { ctx, chartArea: a, scales } = chart;
    const x = scales.x;
    const y = scales.y;
    ctx.save();
    ctx.strokeStyle = "#000";
    ctx.fillStyle = "#000";
    ctx.lineWidth = 1.8;
    ctx.setLineDash([]);
    ctx.strokeRect(a.left, a.top, a.right - a.left, a.bottom - a.top);

    // y ticks and labels
    ctx.lineWidth = 1.4;
    for (const v of yTickValues) {
      const py = Math.round(y.getPixelForValue(v)) + 0.5;
      ctx.beginPath();
      ctx.moveTo(a.left, py);
      ctx.lineTo(a.left - 7, py);
      ctx.stroke();
    }
    ctx.font = `19px ${FONT}`;
    ctx.textAlign = "center";
    ctx.textBaseline = "middle";
    for (const v of yLabelValues) {
      const py = y.getPixelForValue(v);
      ctx.save();
      ctx.translate(a.left - 25, py);
      ctx.rotate(-Math.PI / 2);
      ctx.fillText(String(v), 0, 1);
      ctx.restore();
    }

    // x minor ticks (monthly, pointing inward)
    const nMinor = minorTicksPerYear * 5;
    for (let m = 0; m <= nMinor; m++) {
      const px = Math.round(x.getPixelForValue((m * 52) / minorTicksPerYear)) + 0.5;
      ctx.beginPath();
      ctx.moveTo(px, a.bottom);
      ctx.lineTo(px, a.bottom - 5);
      ctx.stroke();
    }
    // x major ticks and labels
    ctx.font = `18px ${FONT}`;
    for (const w of xTickWeeks) {
      const px = Math.round(x.getPixelForValue(w)) + 0.5;
      ctx.beginPath();
      ctx.moveTo(px, a.bottom);
      ctx.lineTo(px, a.bottom + 7);
      ctx.stroke();
      ctx.fillText(String(w), px, a.bottom + 25);
    }

    // titles
    const cx = (a.left + a.right) / 2;
    ctx.font = `bold 18px ${FONT}`;
    ctx.fillText(opts.title[0], cx, 24);
    ctx.fillText(opts.title[1], cx, 48);

    if (opts.showXLabel) {
      ctx.font = `24px ${FONT}`;
      ctx.fillText(xAxisLabel, cx, a.bottom + 57);
    }
    ctx.restore();
  },
};

function Panel({ spec }: { spec: PanelSpec }) {
  const ref = useRef<HTMLCanvasElement>(null);
  const col = colLayout[spec.col];
  const row = rowLayout[spec.row];

  useEffect(() => {
    if (!ref.current) return;
    const datasets: any[] = [makeLine(spec.meanWeeks, spec.meanVals, "#000000", spec.meanWidth, spec.smooth)];
    spec.grayLines.forEach((vals) => datasets.push(makeLine(spec.grayWeeks, vals, GRAY, spec.grayWidth, spec.smooth)));
    const chart = new Chart(ref.current, {
      type: "line",
      data: { datasets },
      options: {
        responsive: false,
        animation: false,
        devicePixelRatio: 1,
        events: [],
        layout: {
          padding: {
            left: col.padLeft,
            right: col.padRight,
            top: BOX_TOP,
            bottom: row.height - BOX_BOTTOM,
          },
        },
        scales: {
          x: { type: "linear", min: xMin, max: xMax, display: false },
          y: { type: "linear", min: yMin, max: yMax, display: false },
        },
        plugins: {
          legend: { display: false },
          tooltip: { enabled: false },
          title: { display: false },
          rFrame: { title: spec.title, showXLabel: spec.row === 2 },
        } as any,
      },
      plugins: [rFramePlugin],
    } as any);
    return () => chart.destroy();
  }, []);

  return (
    <canvas
      ref={ref}
      width={col.width}
      height={row.height}
      style={{ position: "absolute", left: col.left, top: row.top, width: col.width, height: row.height }}
    />
  );
}

export default function App() {
  return (
    <div
      style={{
        position: "fixed",
        left: 0,
        top: 0,
        width: 1138,
        height: 848,
        overflow: "hidden",
        background: "#ffffff",
      }}
    >
      {panels.map((p, i) => (
        <Panel key={i} spec={p} />
      ))}
    </div>
  );
}
